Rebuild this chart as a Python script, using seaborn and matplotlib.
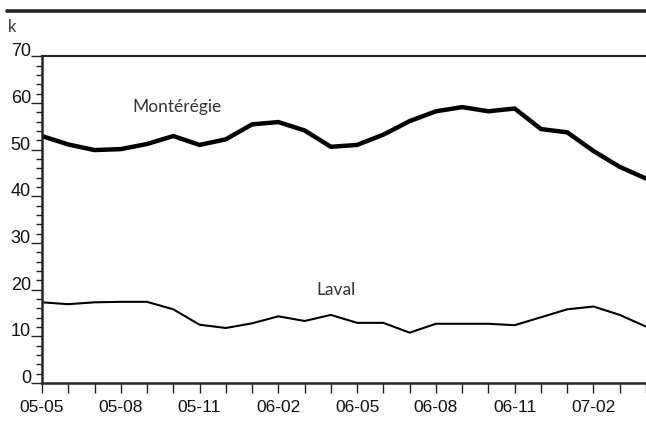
import matplotlib
matplotlib.use("Agg")
import matplotlib.pyplot as plt
import seaborn as sns
import pandas as pd
import numpy as np
from matplotlib.ticker import MultipleLocator, FixedLocator

months = ["05-05","05-06","05-07","05-08","05-09","05-10","05-11","05-12",
          "06-01","06-02","06-03","06-04","06-05","06-06","06-07","06-08",
          "06-09","06-10","06-11","06-12","07-01","07-02","07-03","07-04"]
monteregie = [52.9, 51.1, 49.9, 50.1, 51.2, 52.9, 51.0, 52.2, 55.4, 55.9, 54.1, 50.6,
              51.0, 53.2, 56.1, 58.2, 59.1, 58.2, 58.8, 54.4, 53.7, 49.7, 46.3, 43.8]
laval = [17.3, 16.9, 17.3, 17.4, 17.4, 15.8, 12.5, 11.8, 12.8, 14.3, 13.3, 14.6,
         12.9, 12.9, 10.8, 12.7, 12.7, 12.7, 12.4, 14.1, 15.8, 16.4, 14.6, 12.1]
tick_labels = ["05-05", "05-08", "05-11", "06-02", "06-05", "06-08", "06-11", "07-02"]

sns.set_style("ticks")
plt.rcParams['font.family'] = ['Liberation Sans', 'DejaVu Sans']

idx = np.arange(len(months))
df = pd.DataFrame({
    "i": np.concatenate([idx, idx]),
    "value": monteregie + laval,
    "region": ["Montérégie"] * len(months) + ["Laval"] * len(months),
})

fig = plt.figure(figsize=(6.46, 4.29), dpi=100)
ax = fig.add_axes([0.065, 0.107, 0.935, 0.762])

sns.lineplot(data=df, x="i", y="value", hue="region", size="region",
             sizes={"Montérégie": 3.2, "Laval": 1.5},
             palette={"Montérégie": "black", "Laval": "black"},
             legend=False, ax=ax)

ax.set_xlim(0, len(months) - 1)
ax.set_ylim(0, 70)
ax.set_xlabel("")
ax.set_ylabel("")

ax.xaxis.set_major_locator(FixedLocator(list(range(0, len(months), 3))))
ax.set_xticklabels(tick_labels)
ax.xaxis.set_minor_locator(MultipleLocator(1))
ax.tick_params(axis="x", which="both", length=7, width=1, direction="out",
               labelsize=12.5, pad=5, color="#222222", labelcolor="#111111")

ax.yaxis.set_major_locator(MultipleLocator(10))
ax.yaxis.set_minor_locator(MultipleLocator(2))
ax.tick_params(axis="y", which="major", length=8, width=1, pad=0,
               labelsize=13, color="#222222", labelcolor="#111111")
ax.tick_params(axis="y", which="minor", length=4, width=1, color="#222222")
for lbl in ax.get_yticklabels():
    lbl.set_verticalalignment("baseline")

for s in ["left", "bottom"]:
    ax.spines[s].set_linewidth(1.8)
ax.spines["top"].set_linewidth(1.5)
ax.spines["right"].set_visible(False)

ax.text(5.15, 59.1, "Montérégie", fontsize=12.5, color="#333333",
        family=["Lato", "DejaVu Sans"], ha="center", va="center")
ax.text(11.2, 19.9, "Laval", fontsize=12.5, color="#333333",
        family=["Lato", "DejaVu Sans"], ha="center", va="center")

fig.add_artist(plt.Line2D([0.011, 1.0], [0.974, 0.974], color="#222222",
                          linewidth=2.6, transform=fig.transFigure))
fig.text(0.012, 0.936, "k", fontsize=12, color="#333333",
         family=["Lato", "DejaVu Sans"], ha="left", va="center")

fig.savefig("out.png", dpi=100)
